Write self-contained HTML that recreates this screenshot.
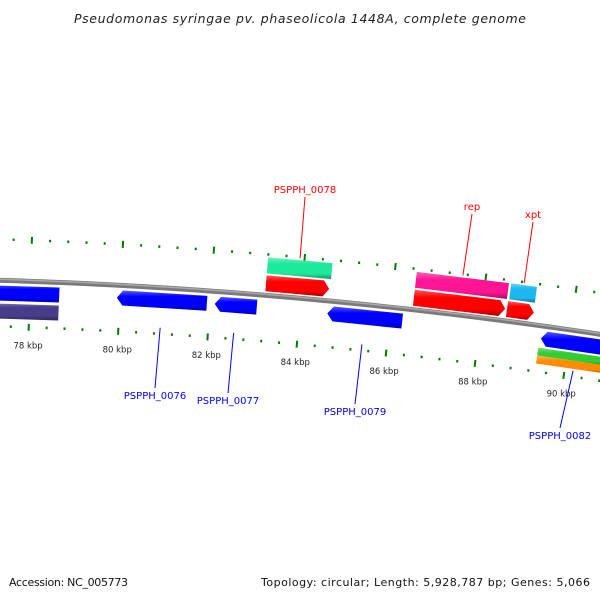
<!DOCTYPE html>
<html><head><meta charset="utf-8"><style>
html,body{margin:0;padding:0;background:#fff;}
svg{display:block;font-family:"DejaVu Sans","Liberation Sans",sans-serif;}
</style></head><body>
<svg id="map" width="600" height="600" viewBox="0 0 600 600" xmlns="http://www.w3.org/2000/svg">
<defs id="defs"></defs>
<rect width="600" height="600" fill="#fff"/>
<text x="300" y="23" text-anchor="middle" font-size="12.5" font-style="italic" fill="#222" textLength="452">Pseudomonas syringae pv. phaseolicola 1448A, complete genome</text>
<g id="ticks"></g>
<g id="backbone"></g>
<g id="features"></g>
<g id="labels"></g>
<text x="9" y="586" font-size="11" fill="#111" textLength="119">Accession: NC_005773</text>
<text x="590" y="586" text-anchor="end" font-size="11" fill="#111" textLength="329">Topology: circular; Length: 5,928,787 bp; Genes: 5,066</text>
</svg>
<script>
// ---- data ----
const tickStartBp = 76000;
const tickEndBp = 92000;
const minorStepBp = 400;
const majorStepBp = 2000;
// feature arrays: start bp, end bp, strand ring, color, name
const featStart = [83200, 86480, 88550, 83200, 86480, 88570, 76000, 79930, 82105, 84610, 89380, 76000, 89350, 89350];
const featEnd   = [84600, 88510, 89150, 84620, 88520, 89140, 78650, 81930, 83040, 86280, 91000, 78650, 91000, 91000];
const featRing  = ['f1','f1','f1','f2','f2','f2','r1','r1','r1','r1','r1','r2','r2b','r3'];
const featArrow = [1,1,1,0,0,0,0,-1,-1,-1,-1,0,0,0];
const featColor = ['#ff0000','#ff0000','#ff0000','#1de99b','#ff1493','#1ab8ee','#0000ff','#0000ff','#0000ff','#0000ff','#0000ff','#483d8b','#32cd32','#ff8c00'];
const labelText = ['PSPPH_0078','rep','xpt','PSPPH_0076','PSPPH_0077','PSPPH_0079','PSPPH_0082'];
const labelFeat = [0,1,2,7,8,9,10];
const labelX = [305,472,533,155,228,355,560];
const labelY = [193,210,218,399,404,415,439];
// ---- geometry ----
const CX=-153, CY=5343, R0=5065;
const K=45.2/R0/1000, TH86=Math.asin(0.1074);
function ang(bp){return TH86+(bp-86000)*K;}
function pt(bp,r){const t=ang(bp);return [CX+r*Math.sin(t), CY-r*Math.cos(t)];}
const rings={f1:[R0+4,R0+20],f2:[R0+22,R0+38],r1:[R0-20,R0-5],r2:[R0-38,R0-23],r2b:[R0-30,R0-22],r3:[R0-38,R0-30]};
const NS='http://www.w3.org/2000/svg';
function mk(tag,attrs,parent){const e=document.createElementNS(NS,tag);for(const k in attrs)e.setAttribute(k,attrs[k]);parent.appendChild(e);return e;}
function shade(hex,f){let n=parseInt(hex.slice(1),16);let r=n>>16,g=(n>>8)&255,b=n&255;
 if(f>0){r=r+(255-r)*f;g=g+(255-g)*f;b=b+(255-b)*f;}else{r*=1+f;g*=1+f;b*=1+f;}
 return 'rgb('+Math.round(r)+','+Math.round(g)+','+Math.round(b)+')';}
const defs=document.getElementById('defs');
// backbone
const bb=document.getElementById('backbone');
function arcPath(r,b0,b1){let d='';for(let b=b0;b<=b1;b+=250){const p=pt(b,r);d+=(d?'L':'M')+p[0].toFixed(2)+','+p[1].toFixed(2);}return d;}
let p1=mk('path',{d:arcPath(R0,74000,94000),stroke:'#7a7a7a','stroke-width':5,fill:'none'},bb);


let p2=mk('path',{d:arcPath(R0+1,74000,94000),stroke:'#a8a8a8','stroke-width':1.5,fill:'none'},bb);


// ticks
const tg=document.getElementById('ticks');
for(let bp=tickStartBp;bp<=tickEndBp;bp+=minorStepBp){
 const major=bp%majorStepBp===0;const len=major?7:2.5;
 [R0+41,R0-46].forEach((rc,i)=>{
  const a=pt(bp,rc-len/2),b=pt(bp,rc+len/2);
  const l=mk('line',{x1:a[0],y1:a[1],x2:b[0],y2:b[1],stroke:'#007a00','stroke-width':major?2:2},tg);
  
  
 });
 if(major){const p=pt(bp,R0-64);
  const t=mk('text',{x:p[0],y:p[1]+3,'text-anchor':'middle','font-size':8.5,fill:'#222'},tg);
  t.textContent=(bp/1000)+' kbp';
  
  }
}
// features
const fg=document.getElementById('features');
const gradIds={};
function grad(c){if(gradIds[c])return gradIds[c];const id='g'+Object.keys(gradIds).length;
 const g=mk('linearGradient',{id:id,x1:0,y1:0,x2:0,y2:1},defs);
 mk('stop',{offset:'0',  'stop-color':shade(c,0.35)},g);
 mk('stop',{offset:'0.3','stop-color':c},g);
 mk('stop',{offset:'0.75','stop-color':c},g);
 mk('stop',{offset:'1','stop-color':shade(c,-0.35)},g);
 gradIds[c]=id;return id;}
const AL=130;
for(let i=0;i<featStart.length;i++){
 const [ri,ro]=rings[featRing[i]];const rm=(ri+ro)/2;const s=featStart[i],e=featEnd[i];
 let pts=[];
 if(featArrow[i]===1){pts=[pt(s,ro),pt(e-AL,ro),pt(e,rm),pt(e-AL,ri),pt(s,ri)];}
 else if(featArrow[i]===-1){pts=[pt(s,rm),pt(s+AL,ro),pt(e,ro),pt(e,ri),pt(s+AL,ri)];}
 else{pts=[pt(s,ro),pt(e,ro),pt(e,ri),pt(s,ri)];}
 const poly=mk('polygon',{points:pts.map(p=>p[0].toFixed(2)+','+p[1].toFixed(2)).join(' '),fill:'url(#'+grad(featColor[i])+')'},fg);
 
 
}
// labels
const lg=document.getElementById('labels');
for(let j=0;j<labelText.length;j++){
 const f=labelFeat[j];const fwd=featRing[f][0]==='f';const col=fwd?'#ff0000':'#0000ff';
 const [ri,ro]=rings[featRing[f]];const mid=(featStart[f]+featEnd[f])/2;
 const a=pt(mid,fwd?ro+20:ri-20);
 const ey=fwd?labelY[j]+4:labelY[j]-11;
 const l=mk('line',{x1:a[0],y1:a[1],x2:labelX[j],y2:ey,stroke:col,'stroke-width':1},lg);
 
 
 const t=mk('text',{x:labelX[j],y:labelY[j],'text-anchor':'middle','font-size':10,fill:col},lg);
 t.textContent=labelText[j];
 
 
}
</script>
</body></html>
